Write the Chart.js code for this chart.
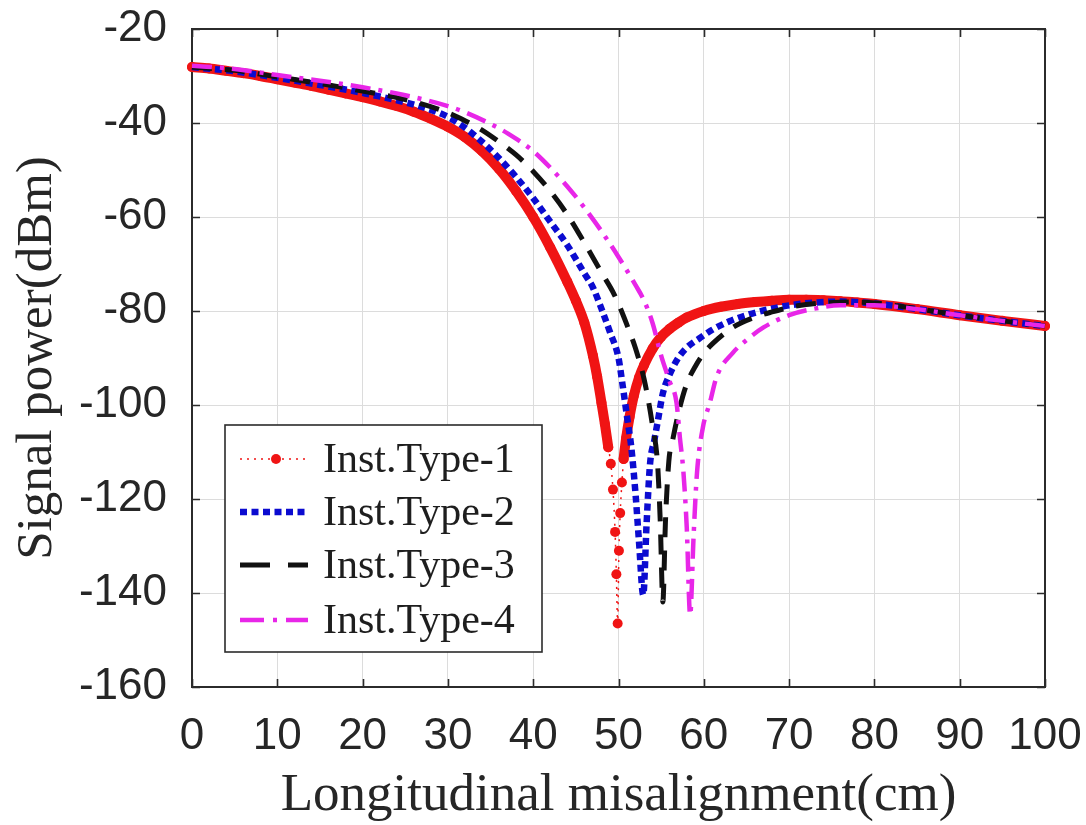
<!DOCTYPE html>
<html>
<head>
<meta charset="utf-8">
<script src="https://cdn.jsdelivr.net/npm/chart.js@4/dist/chart.umd.min.js"></script>
<style>
  body { margin: 0; background: #fff; }
  #wrap { width: 1086px; height: 825px; }
</style>
</head>
<body>
<div id="wrap"><canvas id="powerChart" width="1086" height="825"></canvas></div>
<script>
// misalignment (cm) / received power (dBm) per installation type
const type1X = [0, 2, 4, 6, 8, 10, 12, 14, 16, 18, 20, 22, 24, 26, 28, 30, 32, 34, 36, 38, 40, 42, 44, 45, 46, 47, 47.5, 48, 48.4, 48.8,
  49.1, 49.35, 49.6, 49.75, 49.9, 50.05, 50.2, 50.4, 50.6, 50.9, 51.3, 51.8, 52.4, 53, 54, 55, 56, 57, 58, 60, 62, 64, 66, 68, 70,
  72, 74, 76, 78, 80, 85, 90, 95, 100];
const type1Y = [-28.1, -28.4, -28.9, -29.4, -30, -30.7, -31.4, -32.1, -32.9, -33.7, -34.5, -35.4, -36.4, -37.6, -39.1, -40.8, -43, -46, -49.8, -54.5, -60, -66.5, -73.8, -77.8, -82.5, -89.5, -94, -99.5, -104, -109,
  -112.5, -118, -127, -136, -146.5, -131, -123, -116.5, -111.5, -107, -102.5, -98, -94.2, -91.5, -88, -85.5, -83.8, -82.5, -81.4, -80, -79.1, -78.5, -78.1, -77.8, -77.6,
  -77.6, -77.7, -77.9, -78.2, -78.5, -79.6, -80.9, -82.1, -83.2];

const type2X = [0, 5, 10, 15, 20, 25, 28, 30, 32, 34, 36, 38, 40, 42, 44, 46, 47, 48, 49, 50, 50.5, 51, 51.5, 52, 52.4, 52.9,
  53.3, 53.7, 54.2, 54.6, 55.2, 56, 57, 58, 59.5, 61, 63, 65, 67, 70, 73, 76, 80, 85, 90, 95, 100];
const type2Y = [-28.1, -29, -30.4, -31.9, -33.6, -35.6, -37.2, -38.7, -41, -44, -47.5, -51.5, -56, -61, -66, -72, -75, -79.5, -84.5, -90, -96, -102.5, -109, -119, -129, -140.4,
  -125, -112.5, -107.5, -103.5, -97.5, -93.5, -90, -87.8, -85.8, -84, -82.2, -80.9, -79.9, -78.8, -78.2, -78, -78.4, -79.6, -80.9, -82.1, -83.2];

const type3X = [0, 5, 10, 15, 20, 25, 30, 32, 34, 36, 38, 40, 42, 44, 46, 48, 49.5, 51, 52, 53, 54, 54.6, 54.9, 55.2,
  55.5, 55.9, 56.4, 57.2, 58, 59, 60, 61, 63.4, 66, 68, 71, 74, 77, 80, 85, 90, 95, 100];
const type3Y = [-28.1, -28.8, -30.2, -31.6, -33.2, -35, -37.8, -39.5, -41.5, -44, -46.8, -50.3, -54.5, -59.5, -65.5, -71.8, -76.5, -83, -88, -94.5, -104.5, -113, -125, -141.9,
  -125, -112, -107, -100.4, -95.5, -91.8, -89, -87, -83.5, -81.3, -80.2, -78.9, -78.3, -78.1, -78.3, -79.5, -80.9, -82.1, -83.2];

const type4X = [0, 5, 10, 15, 20, 25, 30, 32, 35, 37, 40, 42, 44, 46, 48, 50, 52, 53, 54, 55, 56, 56.8, 57.2, 57.6, 58, 58.4,
  58.8, 59.2, 59.9, 60.7, 61.5, 63.4, 65, 67, 70, 73, 76, 80, 85, 90, 95, 100];
const type4Y = [-27.8, -28.5, -29.8, -31, -32.4, -34.1, -36.4, -37.7, -40.2, -42.2, -46, -49.5, -53.5, -58, -63, -68.5, -74.5, -77.8, -82.6, -89.5, -95, -99.5, -107, -114, -126, -144.7,
  -128, -114.5, -104.7, -99.6, -94, -88.9, -86.2, -83.5, -80.9, -79.5, -78.8, -78.8, -79.6, -80.9, -82.1, -83.2];

const seriesNames = ['Inst.Type-1', 'Inst.Type-2', 'Inst.Type-3', 'Inst.Type-4'];

const xTicks = { min: 0, max: 100, step: 10 };
const yTicks = { min: -160, max: -20, step: 20 };

const RED = '#f01414', BLUE = '#0b0bd0', BLACK = '#111111', MAGENTA = '#e826e8';
const FRAME = '#2b2b2b';

function pairs(xs, ys) {
  return xs.map((x, i) => ({ x: x, y: ys[i] }));
}

// type-1 markers run together into a solid band except down in the notch
function inBand(c) {
  return type1Y[c.p0DataIndex] > -112 && type1Y[c.p1DataIndex] > -112;
}

// box around the plot with inward tick marks on all four sides
const axesBox = {
  id: 'axesBox',
  beforeDatasetsDraw(chart) {
    const { ctx, chartArea: a, scales } = chart;
    const len = 8;
    ctx.save();
    ctx.strokeStyle = FRAME;
    ctx.lineWidth = 1.6;
    ctx.beginPath();
    for (let v = xTicks.min; v <= xTicks.max; v += xTicks.step) {
      const px = Math.round(scales.x.getPixelForValue(v)) + 0.5;
      ctx.moveTo(px, a.bottom); ctx.lineTo(px, a.bottom - len);
      ctx.moveTo(px, a.top); ctx.lineTo(px, a.top + len);
    }
    for (let v = yTicks.min; v <= yTicks.max; v += yTicks.step) {
      const py = Math.round(scales.y.getPixelForValue(v)) + 0.5;
      ctx.moveTo(a.left, py); ctx.lineTo(a.left + len, py);
      ctx.moveTo(a.right, py); ctx.lineTo(a.right - len, py);
    }
    ctx.stroke();
    ctx.lineWidth = 2;
    ctx.strokeRect(a.left, a.top, a.right - a.left, a.bottom - a.top);
    ctx.restore();
  }
};

// legend box in the lower left corner of the plot
const legendBox = {
  id: 'legendBox',
  afterDatasetsDraw(chart) {
    const { ctx, chartArea: a } = chart;
    const bx = a.left + 33, by = a.top + 396, bw = 317, bh = 227;
    ctx.save();
    ctx.fillStyle = '#fff';
    ctx.fillRect(bx, by, bw, bh);
    ctx.strokeStyle = FRAME;
    ctx.lineWidth = 1.6;
    ctx.strokeRect(bx, by, bw, bh);

    const rows = [34, 87, 140, 195];
    const styles = [
      { color: RED, width: 1.5, dash: [2, 5], marker: true },
      { color: BLUE, width: 6.5, dash: [7, 4.5] },
      { color: BLACK, width: 5, dash: [30, 18] },
      { color: MAGENTA, width: 4.5, dash: [24, 9, 4, 9] }
    ];
    ctx.font = '42px "Liberation Serif", "Times New Roman", serif';
    ctx.textBaseline = 'middle';
    seriesNames.forEach((name, i) => {
      const y = by + rows[i];
      const s = styles[i];
      ctx.strokeStyle = s.color;
      ctx.lineWidth = s.width;
      ctx.setLineDash(s.dash);
      ctx.beginPath();
      ctx.moveTo(bx + 15, y);
      ctx.lineTo(bx + 83, y);
      ctx.stroke();
      ctx.setLineDash([]);
      if (s.marker) {
        ctx.fillStyle = s.color;
        ctx.beginPath();
        ctx.arc(bx + 51, y, 5, 0, Math.PI * 2);
        ctx.fill();
      }
      ctx.fillStyle = '#1e1e1e';
      ctx.fillText(name, bx + 98, y + 2);
    });
    ctx.restore();
  }
};

const tickFont = { family: '"Liberation Sans", Arial, sans-serif', size: 44 };
const serif = '"Liberation Serif", "Times New Roman", serif';

new Chart(document.getElementById('powerChart'), {
  type: 'line',
  data: {
    datasets: [
      {
        label: seriesNames[0],
        data: pairs(type1X, type1Y),
        borderColor: RED,
        backgroundColor: RED,
        pointRadius: 5,
        pointBorderWidth: 0,
        pointBackgroundColor: RED,
        borderJoinStyle: 'round',
        segment: {
          borderWidth: c => inBand(c) ? 10 : 1.5,
          borderDash: c => inBand(c) ? [] : [2, 5],
          borderCapStyle: c => inBand(c) ? 'round' : 'butt'
        },
        order: 4
      },
      {
        label: seriesNames[1],
        data: pairs(type2X, type2Y),
        borderColor: BLUE,
        borderWidth: 6.5,
        borderDash: [7, 4.5],
        pointRadius: 0,
        order: 3
      },
      {
        label: seriesNames[2],
        data: pairs(type3X, type3Y),
        borderColor: BLACK,
        borderWidth: 5,
        borderDash: [20, 13],
        pointRadius: 0,
        order: 2
      },
      {
        label: seriesNames[3],
        data: pairs(type4X, type4Y),
        borderColor: MAGENTA,
        borderWidth: 4.5,
        borderDash: [20, 8, 4, 8],
        pointRadius: 0,
        order: 1
      }
    ]
  },
  options: {
    responsive: false,
    animation: false,
    datasets: { line: { clip: 10, fill: false, cubicInterpolationMode: 'monotone' } },
    layout: { padding: { top: 29, right: 41, left: 0, bottom: 0 } },
    plugins: { legend: { display: false }, tooltip: { enabled: false } },
    scales: {
      x: {
        type: 'linear',
        min: xTicks.min,
        max: xTicks.max,
        ticks: { stepSize: xTicks.step, padding: 23, font: tickFont, color: '#262626', maxRotation: 0 },
        grid: { color: '#dcdcdc', lineWidth: 1, drawTicks: false },
        border: { display: false },
        title: {
          display: true,
          text: 'Longitudinal misalignment(cm)',
          font: { family: serif, size: 53, lineHeight: 1 },
          color: '#262626',
          padding: { top: 0, bottom: 2 }
        },
        afterFit: s => { s.height = 138; s.paddingLeft = 0; s.paddingRight = 0; }
      },
      y: {
        min: yTicks.min,
        max: yTicks.max,
        ticks: { stepSize: yTicks.step, padding: 25, font: tickFont, color: '#262626' },
        grid: { color: '#dcdcdc', lineWidth: 1, drawTicks: false },
        border: { display: false },
        title: {
          display: true,
          text: 'Signal power(dBm)',
          font: { family: serif, size: 51, lineHeight: 1 },
          color: '#262626',
          padding: { top: 12, bottom: 0 }
        },
        afterFit: s => { s.width = 192; s.paddingTop = 0; s.paddingBottom = 0; }
      }
    }
  },
  plugins: [axesBox, legendBox]
});
</script>
</body>
</html>
